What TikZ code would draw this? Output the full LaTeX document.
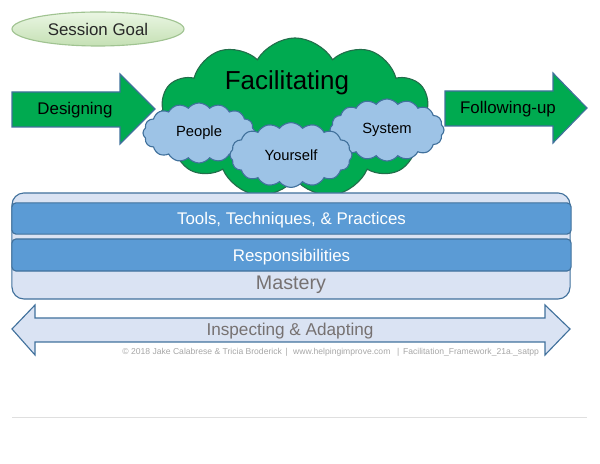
\documentclass[tikz,border=0pt]{standalone}
\usepackage{fontspec}
\setmainfont{Liberation Sans}
\usetikzlibrary{shapes.symbols,shapes.geometric,positioning}

\definecolor{fgreen}{RGB}{0,170,80}
\definecolor{fgreenline}{RGB}{35,110,75}
\definecolor{slate}{RGB}{65,113,156}
\definecolor{cloudblue}{RGB}{157,195,230}
\definecolor{barblue}{RGB}{91,155,213}
\definecolor{paleblue}{RGB}{218,227,243}
\definecolor{txtgray}{RGB}{118,113,113}

\begin{document}
\begin{tikzpicture}[x=0.025cm,y=-0.025cm,
  fs/.style={font=\fontsize{#1}{#1}\selectfont},
  blob/.style={cloud,cloud ignores aspect,cloud puffs=16,cloud puff arc=105,draw=slate,fill=cloudblue,line width=0.8pt,inner sep=0pt,fs=10.5},
  bar/.style={draw=slate,fill=barblue,rounded corners=0.1cm,line width=0.8pt,minimum width=13.975cm,minimum height=0.78cm,text=white,text depth=0pt,fs=12},
  bigarrow/.style={draw=slate,fill=fgreen,line width=0.8pt}]
  \useasboundingbox (0,0) rectangle (600,464);

  % goal
  \node[ellipse,draw={rgb,255:red,160;green,195;blue,145},top color={rgb,255:red,234;green,246;blue,227},bottom color={rgb,255:red,197;green,224;blue,180},line width=0.8pt,minimum width=4.3cm,minimum height=0.85cm,text={rgb,255:red,40;green,40;blue,40},fs=12] (goal) at (98,29) {Session Goal};

  % side arrows
  \draw[bigarrow] (12,92) -- (120,92) -- (120,74) -- (155,109) -- (120,144) -- (120,127) -- (12,127) -- cycle;
  \node[fs=12] (design) at (75,110) {Designing};
  \draw[bigarrow] (445,91) -- (553,91) -- (553,73) -- (587,108) -- (553,143) -- (553,126) -- (445,126) -- cycle;
  \node[fs=12] (follow) at (508,109) {Following-up};

  % clouds
  \node[cloud,cloud ignores aspect,cloud puffs=11,cloud puff arc=120,draw=fgreenline,fill=fgreen,line width=0.8pt,minimum width=6.9cm,minimum height=4.0cm] (facil) at (295,118) {};
  \node[fs=18.5] (factxt) at (287,83) {Facilitating};
  \node[blob,minimum width=2.8cm,minimum height=1.5cm] (people) at (199,133) {People};
  \node[blob,minimum width=2.85cm,minimum height=1.55cm] (system) at (387,130) {System};
  \node[blob,minimum width=3.05cm,minimum height=1.62cm] (self) at (291,155) {Yourself};

  % mastery block
  \node[draw=slate,fill=paleblue,rounded corners=0.3cm,line width=0.8pt,minimum width=13.95cm,minimum height=2.65cm] (mastery) at (291,246) {};
  \node[bar] (tools) at (291.5,218.5) {Tools, Techniques, \& Practices};
  \node[bar,minimum height=0.8cm] (resp) at (291.5,255) {Responsibilities};
  \node[text=txtgray,fs=14] (mtxt) at (291,285) {Mastery};

  % inspect and adapt
  \draw[draw=slate,fill=paleblue,line width=0.8pt] (12,329) -- (35,305) -- (35,318) -- (545,318) -- (545,305) -- (570,329) -- (545,355) -- (545,342) -- (35,342) -- (35,355) -- cycle;
  \node[text=txtgray,fs=12.2] (insp) at (290,331) {Inspecting \& Adapting};
  \node[text=gray!70,fs=6.1,anchor=east] (copy) at (544,352) {\textcopyright{} 2018 Jake Calabrese \& Tricia Broderick \,|\,\, www.helpingimprove.com \,\,\,|\, Facilitation\_Framework\_21a.\_satpp};

  \draw[gray!25,line width=0.6pt] (12,417) -- (587,417);
\end{tikzpicture}
\end{document}
